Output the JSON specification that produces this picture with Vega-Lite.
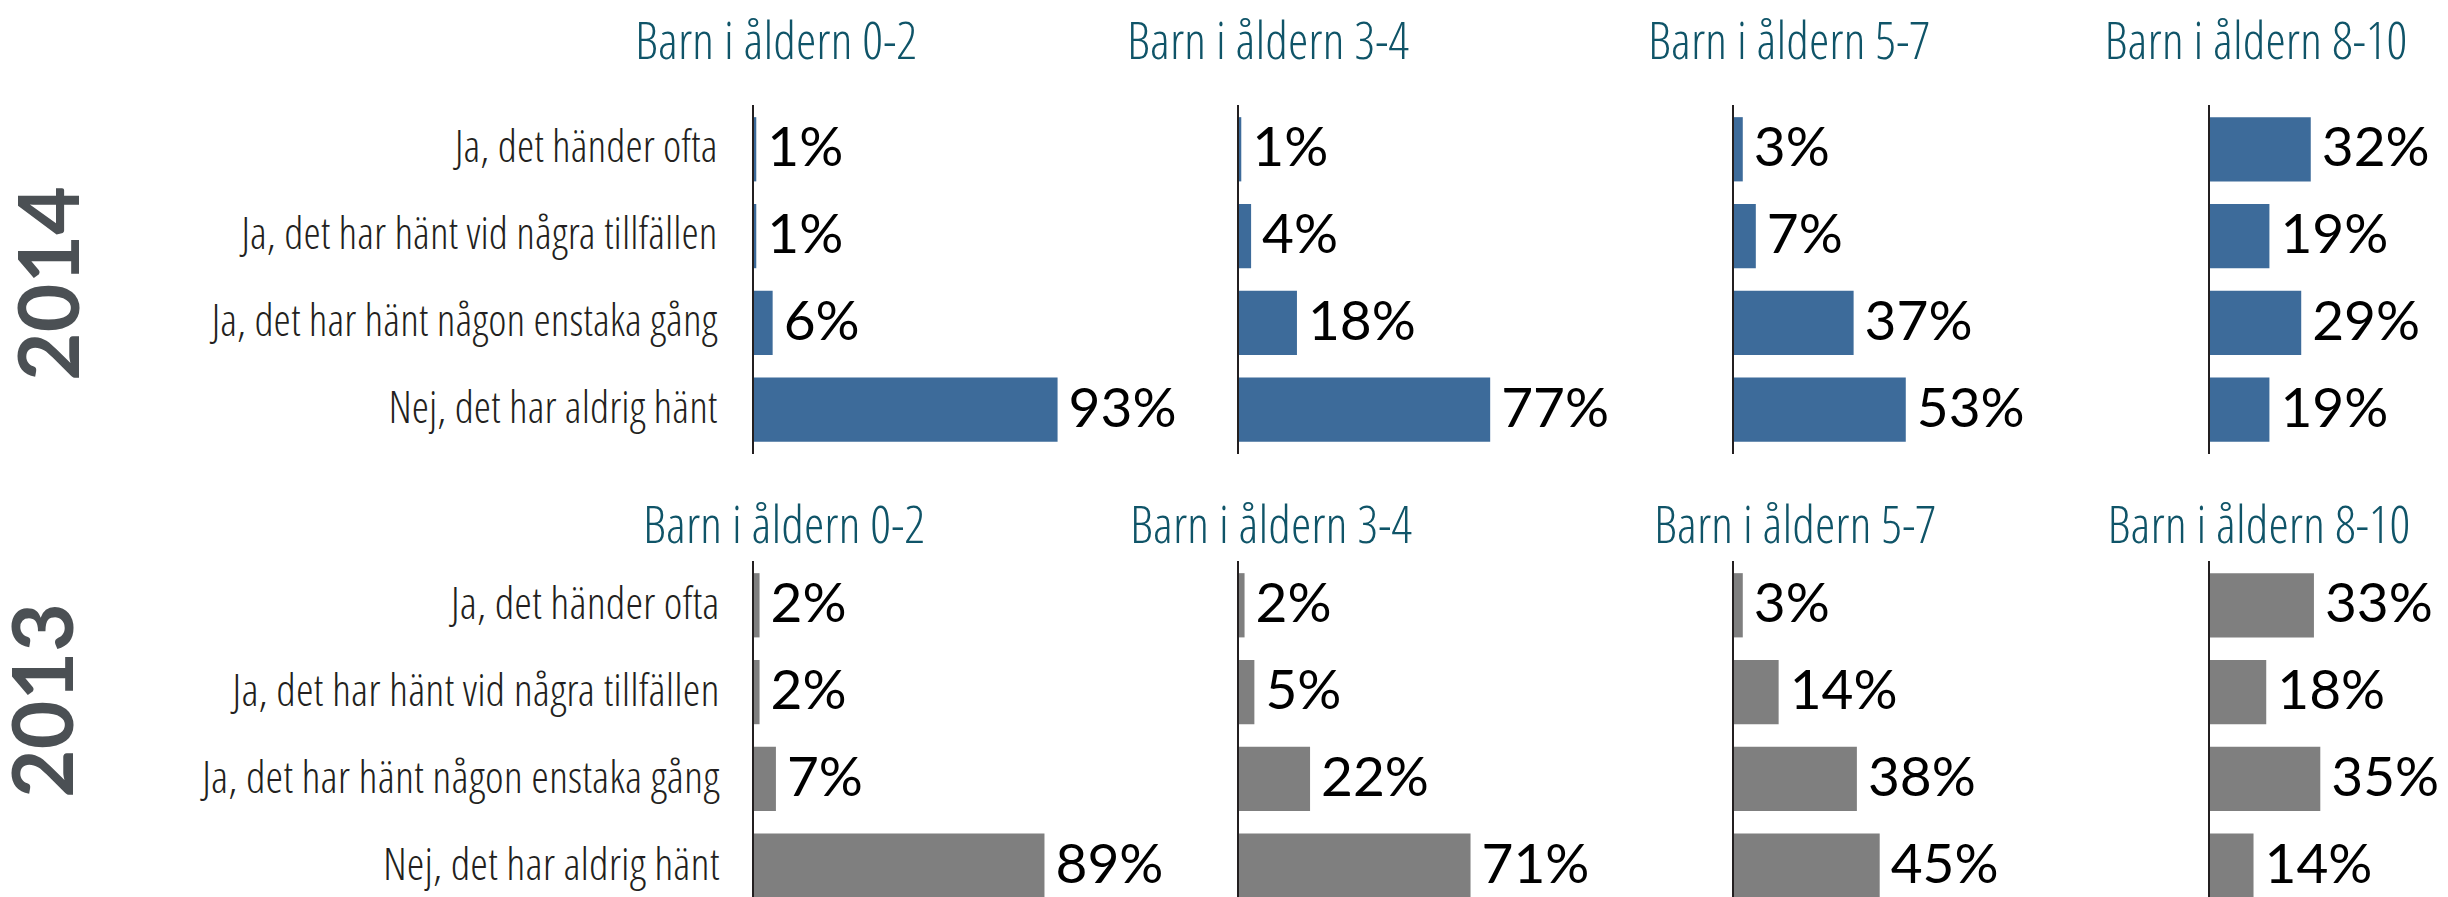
{
  "$schema": "https://vega.github.io/schema/vega-lite/v6.json",
  "background": "white",
  "padding": {"left": 5, "top": 17, "right": 0, "bottom": 0},
  "config": {"view": {"stroke": null}},
  "datasets": {
    "d": [
      {"year": "2014", "age": "0-2", "svar": "Ja, det händer ofta", "andel": 0.01},
      {"year": "2014", "age": "0-2", "svar": "Ja, det har hänt vid några tillfällen", "andel": 0.01},
      {"year": "2014", "age": "0-2", "svar": "Ja, det har hänt någon enstaka gång", "andel": 0.06},
      {"year": "2014", "age": "0-2", "svar": "Nej, det har aldrig hänt", "andel": 0.93},
      {"year": "2014", "age": "3-4", "svar": "Ja, det händer ofta", "andel": 0.01},
      {"year": "2014", "age": "3-4", "svar": "Ja, det har hänt vid några tillfällen", "andel": 0.04},
      {"year": "2014", "age": "3-4", "svar": "Ja, det har hänt någon enstaka gång", "andel": 0.18},
      {"year": "2014", "age": "3-4", "svar": "Nej, det har aldrig hänt", "andel": 0.77},
      {"year": "2014", "age": "5-7", "svar": "Ja, det händer ofta", "andel": 0.03},
      {"year": "2014", "age": "5-7", "svar": "Ja, det har hänt vid några tillfällen", "andel": 0.07},
      {"year": "2014", "age": "5-7", "svar": "Ja, det har hänt någon enstaka gång", "andel": 0.37},
      {"year": "2014", "age": "5-7", "svar": "Nej, det har aldrig hänt", "andel": 0.53},
      {"year": "2014", "age": "8-10", "svar": "Ja, det händer ofta", "andel": 0.32},
      {"year": "2014", "age": "8-10", "svar": "Ja, det har hänt vid några tillfällen", "andel": 0.19},
      {"year": "2014", "age": "8-10", "svar": "Ja, det har hänt någon enstaka gång", "andel": 0.29},
      {"year": "2014", "age": "8-10", "svar": "Nej, det har aldrig hänt", "andel": 0.19},
      {"year": "2013", "age": "0-2", "svar": "Ja, det händer ofta", "andel": 0.02},
      {"year": "2013", "age": "0-2", "svar": "Ja, det har hänt vid några tillfällen", "andel": 0.02},
      {"year": "2013", "age": "0-2", "svar": "Ja, det har hänt någon enstaka gång", "andel": 0.07},
      {"year": "2013", "age": "0-2", "svar": "Nej, det har aldrig hänt", "andel": 0.89},
      {"year": "2013", "age": "3-4", "svar": "Ja, det händer ofta", "andel": 0.02},
      {"year": "2013", "age": "3-4", "svar": "Ja, det har hänt vid några tillfällen", "andel": 0.05},
      {"year": "2013", "age": "3-4", "svar": "Ja, det har hänt någon enstaka gång", "andel": 0.22},
      {"year": "2013", "age": "3-4", "svar": "Nej, det har aldrig hänt", "andel": 0.71},
      {"year": "2013", "age": "5-7", "svar": "Ja, det händer ofta", "andel": 0.03},
      {"year": "2013", "age": "5-7", "svar": "Ja, det har hänt vid några tillfällen", "andel": 0.14},
      {"year": "2013", "age": "5-7", "svar": "Ja, det har hänt någon enstaka gång", "andel": 0.38},
      {"year": "2013", "age": "5-7", "svar": "Nej, det har aldrig hänt", "andel": 0.45},
      {"year": "2013", "age": "8-10", "svar": "Ja, det händer ofta", "andel": 0.33},
      {"year": "2013", "age": "8-10", "svar": "Ja, det har hänt vid några tillfällen", "andel": 0.18},
      {"year": "2013", "age": "8-10", "svar": "Ja, det har hänt någon enstaka gång", "andel": 0.35},
      {"year": "2013", "age": "8-10", "svar": "Nej, det har aldrig hänt", "andel": 0.14}
    ]
  },
  "data": {"name": "d"},
  "spacing": 46,
  "vconcat": [
    {
      "bounds": "flush",
      "spacing": 150,
      "hconcat": [
        {
          "width": 335, "height": 349,
          "title": {"text": "Barn i åldern 0-2", "anchor": "start", "align": "center", "frame": "group", "dx": 23, "offset": -7, "baseline": "alphabetic", "font": "Open Sans Condensed Light, Open Sans Condensed", "fontSize": 52, "fontWeight": 300, "color": "#0f5468"},
          "transform": [{"filter": "datum.year == '2014' && datum.age == '0-2'"}],
          "encoding": {"x": {"field": "andel", "type": "quantitative", "scale": {"domain": [0, 1.0229], "nice": false}, "axis": null}},
          "layer": [
            {"mark": {"type": "bar", "color": "#3d6b9a"},
             "encoding": {"y": {"field": "svar", "type": "nominal", "sort": ["Ja, det händer ofta", "Ja, det har hänt vid några tillfällen", "Ja, det har hänt någon enstaka gång", "Nej, det har aldrig hänt"], "scale": {"paddingInner": 0.26, "paddingOuter": 0.14},
               "axis": {"title": "2014", "titleX": -700, "titleY": 178, "titleAngle": -90, "titleAlign": "center", "titleBaseline": "middle", "titleFont": "Lato", "titleFontWeight": "bold", "titleFontSize": 84, "titleColor": "#4b5054", "domain": false, "ticks": false, "labelPadding": 36, "labelFont": "Open Sans Condensed Light, Open Sans Condensed", "labelFontWeight": 300, "labelFontSize": 44, "labelColor": "#231f20", "labelLimit": 0}}}},
            {"mark": {"type": "text", "align": "left", "baseline": "middle", "dx": 11, "font": "Lato", "fontSize": 55, "color": "#000000"},
             "encoding": {"y": {"field": "svar", "type": "nominal", "sort": ["Ja, det händer ofta", "Ja, det har hänt vid några tillfällen", "Ja, det har hänt någon enstaka gång", "Nej, det har aldrig hänt"]}, "text": {"field": "andel", "type": "quantitative", "format": ".0%"}}},
            {"mark": {"type": "rule", "color": "#231f20", "strokeWidth": 2}, "encoding": {"x": {"datum": 0}}}
          ]
        },
        {
          "width": 345, "height": 349,
          "title": {"text": "Barn i åldern 3-4", "anchor": "start", "align": "center", "frame": "group", "dx": 30, "offset": -7, "baseline": "alphabetic", "font": "Open Sans Condensed Light, Open Sans Condensed", "fontSize": 52, "fontWeight": 300, "color": "#0f5468"},
          "transform": [{"filter": "datum.year == '2014' && datum.age == '3-4'"}],
          "encoding": {"x": {"field": "andel", "type": "quantitative", "scale": {"domain": [0, 1.0534], "nice": false}, "axis": null}},
          "layer": [
            {"mark": {"type": "bar", "color": "#3d6b9a"},
             "encoding": {"y": {"field": "svar", "type": "nominal", "sort": ["Ja, det händer ofta", "Ja, det har hänt vid några tillfällen", "Ja, det har hänt någon enstaka gång", "Nej, det har aldrig hänt"], "scale": {"paddingInner": 0.26, "paddingOuter": 0.14}, "axis": null}}},
            {"mark": {"type": "text", "align": "left", "baseline": "middle", "dx": 11, "font": "Lato", "fontSize": 55, "color": "#000000"},
             "encoding": {"y": {"field": "svar", "type": "nominal", "sort": ["Ja, det händer ofta", "Ja, det har hänt vid några tillfällen", "Ja, det har hänt någon enstaka gång", "Nej, det har aldrig hänt"]}, "text": {"field": "andel", "type": "quantitative", "format": ".0%"}}},
            {"mark": {"type": "rule", "color": "#231f20", "strokeWidth": 2}, "encoding": {"x": {"datum": 0}}}
          ]
        },
        {
          "width": 326, "height": 349,
          "title": {"text": "Barn i åldern 5-7", "anchor": "start", "align": "center", "frame": "group", "dx": 56, "offset": -7, "baseline": "alphabetic", "font": "Open Sans Condensed Light, Open Sans Condensed", "fontSize": 52, "fontWeight": 300, "color": "#0f5468"},
          "transform": [{"filter": "datum.year == '2014' && datum.age == '5-7'"}],
          "encoding": {"x": {"field": "andel", "type": "quantitative", "scale": {"domain": [0, 1.0], "nice": false}, "axis": null}},
          "layer": [
            {"mark": {"type": "bar", "color": "#3d6b9a"},
             "encoding": {"y": {"field": "svar", "type": "nominal", "sort": ["Ja, det händer ofta", "Ja, det har hänt vid några tillfällen", "Ja, det har hänt någon enstaka gång", "Nej, det har aldrig hänt"], "scale": {"paddingInner": 0.26, "paddingOuter": 0.14}, "axis": null}}},
            {"mark": {"type": "text", "align": "left", "baseline": "middle", "dx": 11, "font": "Lato", "fontSize": 55, "color": "#000000"},
             "encoding": {"y": {"field": "svar", "type": "nominal", "sort": ["Ja, det händer ofta", "Ja, det har hänt vid några tillfällen", "Ja, det har hänt någon enstaka gång", "Nej, det har aldrig hänt"]}, "text": {"field": "andel", "type": "quantitative", "format": ".0%"}}},
            {"mark": {"type": "rule", "color": "#231f20", "strokeWidth": 2}, "encoding": {"x": {"datum": 0}}}
          ]
        },
        {
          "width": 318, "height": 349,
          "title": {"text": "Barn i åldern 8-10", "anchor": "start", "align": "center", "frame": "group", "dx": 47, "offset": -7, "baseline": "alphabetic", "font": "Open Sans Condensed Light, Open Sans Condensed", "fontSize": 52, "fontWeight": 300, "color": "#0f5468"},
          "transform": [{"filter": "datum.year == '2014' && datum.age == '8-10'"}],
          "encoding": {"x": {"field": "andel", "type": "quantitative", "scale": {"domain": [0, 1.0], "nice": false}, "axis": null}},
          "layer": [
            {"mark": {"type": "bar", "color": "#3d6b9a"},
             "encoding": {"y": {"field": "svar", "type": "nominal", "sort": ["Ja, det händer ofta", "Ja, det har hänt vid några tillfällen", "Ja, det har hänt någon enstaka gång", "Nej, det har aldrig hänt"], "scale": {"paddingInner": 0.26, "paddingOuter": 0.14}, "axis": null}}},
            {"mark": {"type": "text", "align": "left", "baseline": "middle", "dx": 11, "font": "Lato", "fontSize": 55, "color": "#000000"},
             "encoding": {"y": {"field": "svar", "type": "nominal", "sort": ["Ja, det händer ofta", "Ja, det har hänt vid några tillfällen", "Ja, det har hänt någon enstaka gång", "Nej, det har aldrig hänt"]}, "text": {"field": "andel", "type": "quantitative", "format": ".0%"}}},
            {"mark": {"type": "rule", "color": "#231f20", "strokeWidth": 2}, "encoding": {"x": {"datum": 0}}}
          ]
        }
      ]
    },
    {
      "bounds": "flush",
      "spacing": 150,
      "hconcat": [
        {
          "width": 335, "height": 349,
          "title": {"text": "Barn i åldern 0-2", "anchor": "start", "align": "center", "frame": "group", "dx": 31, "offset": -35, "baseline": "alphabetic", "font": "Open Sans Condensed Light, Open Sans Condensed", "fontSize": 52, "fontWeight": 300, "color": "#0f5468"},
          "transform": [{"filter": "datum.year == '2013' && datum.age == '0-2'"}],
          "encoding": {"x": {"field": "andel", "type": "quantitative", "scale": {"domain": [0, 1.0229], "nice": false}, "axis": null}},
          "layer": [
            {"mark": {"type": "bar", "color": "#7f7f7f"},
             "encoding": {"y": {"field": "svar", "type": "nominal", "sort": ["Ja, det händer ofta", "Ja, det har hänt vid några tillfällen", "Ja, det har hänt någon enstaka gång", "Nej, det har aldrig hänt"], "scale": {"paddingInner": 0.26, "paddingOuter": 0.14},
               "axis": {"title": "2013", "titleX": -706, "titleY": 139, "titleAngle": -90, "titleAlign": "center", "titleBaseline": "middle", "titleFont": "Lato", "titleFontWeight": "bold", "titleFontSize": 84, "titleColor": "#4b5054", "domain": false, "ticks": false, "labelPadding": 34, "labelFont": "Open Sans Condensed Light, Open Sans Condensed", "labelFontWeight": 300, "labelFontSize": 45, "labelColor": "#231f20", "labelLimit": 0}}}},
            {"mark": {"type": "text", "align": "left", "baseline": "middle", "dx": 11, "font": "Lato", "fontSize": 55, "color": "#000000"},
             "encoding": {"y": {"field": "svar", "type": "nominal", "sort": ["Ja, det händer ofta", "Ja, det har hänt vid några tillfällen", "Ja, det har hänt någon enstaka gång", "Nej, det har aldrig hänt"]}, "text": {"field": "andel", "type": "quantitative", "format": ".0%"}}},
            {"mark": {"type": "rule", "color": "#231f20", "strokeWidth": 2}, "encoding": {"x": {"datum": 0}}}
          ]
        },
        {
          "width": 345, "height": 349,
          "title": {"text": "Barn i åldern 3-4", "anchor": "start", "align": "center", "frame": "group", "dx": 33, "offset": -35, "baseline": "alphabetic", "font": "Open Sans Condensed Light, Open Sans Condensed", "fontSize": 52, "fontWeight": 300, "color": "#0f5468"},
          "transform": [{"filter": "datum.year == '2013' && datum.age == '3-4'"}],
          "encoding": {"x": {"field": "andel", "type": "quantitative", "scale": {"domain": [0, 1.0534], "nice": false}, "axis": null}},
          "layer": [
            {"mark": {"type": "bar", "color": "#7f7f7f"},
             "encoding": {"y": {"field": "svar", "type": "nominal", "sort": ["Ja, det händer ofta", "Ja, det har hänt vid några tillfällen", "Ja, det har hänt någon enstaka gång", "Nej, det har aldrig hänt"], "scale": {"paddingInner": 0.26, "paddingOuter": 0.14}, "axis": null}}},
            {"mark": {"type": "text", "align": "left", "baseline": "middle", "dx": 11, "font": "Lato", "fontSize": 55, "color": "#000000"},
             "encoding": {"y": {"field": "svar", "type": "nominal", "sort": ["Ja, det händer ofta", "Ja, det har hänt vid några tillfällen", "Ja, det har hänt någon enstaka gång", "Nej, det har aldrig hänt"]}, "text": {"field": "andel", "type": "quantitative", "format": ".0%"}}},
            {"mark": {"type": "rule", "color": "#231f20", "strokeWidth": 2}, "encoding": {"x": {"datum": 0}}}
          ]
        },
        {
          "width": 326, "height": 349,
          "title": {"text": "Barn i åldern 5-7", "anchor": "start", "align": "center", "frame": "group", "dx": 62, "offset": -35, "baseline": "alphabetic", "font": "Open Sans Condensed Light, Open Sans Condensed", "fontSize": 52, "fontWeight": 300, "color": "#0f5468"},
          "transform": [{"filter": "datum.year == '2013' && datum.age == '5-7'"}],
          "encoding": {"x": {"field": "andel", "type": "quantitative", "scale": {"domain": [0, 1.0], "nice": false}, "axis": null}},
          "layer": [
            {"mark": {"type": "bar", "color": "#7f7f7f"},
             "encoding": {"y": {"field": "svar", "type": "nominal", "sort": ["Ja, det händer ofta", "Ja, det har hänt vid några tillfällen", "Ja, det har hänt någon enstaka gång", "Nej, det har aldrig hänt"], "scale": {"paddingInner": 0.26, "paddingOuter": 0.14}, "axis": null}}},
            {"mark": {"type": "text", "align": "left", "baseline": "middle", "dx": 11, "font": "Lato", "fontSize": 55, "color": "#000000"},
             "encoding": {"y": {"field": "svar", "type": "nominal", "sort": ["Ja, det händer ofta", "Ja, det har hänt vid några tillfällen", "Ja, det har hänt någon enstaka gång", "Nej, det har aldrig hänt"]}, "text": {"field": "andel", "type": "quantitative", "format": ".0%"}}},
            {"mark": {"type": "rule", "color": "#231f20", "strokeWidth": 2}, "encoding": {"x": {"datum": 0}}}
          ]
        },
        {
          "width": 318, "height": 349,
          "title": {"text": "Barn i åldern 8-10", "anchor": "start", "align": "center", "frame": "group", "dx": 50, "offset": -35, "baseline": "alphabetic", "font": "Open Sans Condensed Light, Open Sans Condensed", "fontSize": 52, "fontWeight": 300, "color": "#0f5468"},
          "transform": [{"filter": "datum.year == '2013' && datum.age == '8-10'"}],
          "encoding": {"x": {"field": "andel", "type": "quantitative", "scale": {"domain": [0, 1.0], "nice": false}, "axis": null}},
          "layer": [
            {"mark": {"type": "bar", "color": "#7f7f7f"},
             "encoding": {"y": {"field": "svar", "type": "nominal", "sort": ["Ja, det händer ofta", "Ja, det har hänt vid några tillfällen", "Ja, det har hänt någon enstaka gång", "Nej, det har aldrig hänt"], "scale": {"paddingInner": 0.26, "paddingOuter": 0.14}, "axis": null}}},
            {"mark": {"type": "text", "align": "left", "baseline": "middle", "dx": 11, "font": "Lato", "fontSize": 55, "color": "#000000"},
             "encoding": {"y": {"field": "svar", "type": "nominal", "sort": ["Ja, det händer ofta", "Ja, det har hänt vid några tillfällen", "Ja, det har hänt någon enstaka gång", "Nej, det har aldrig hänt"]}, "text": {"field": "andel", "type": "quantitative", "format": ".0%"}}},
            {"mark": {"type": "rule", "color": "#231f20", "strokeWidth": 2}, "encoding": {"x": {"datum": 0}}}
          ]
        }
      ]
    }
  ]
}
